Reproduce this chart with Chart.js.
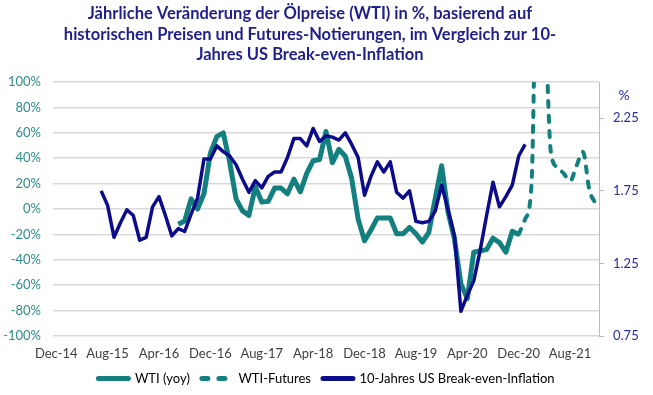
<!DOCTYPE html>
<html>
<head>
<meta charset="utf-8">
<script src="https://cdn.jsdelivr.net/npm/chart.js@4.4.1/dist/chart.umd.min.js"></script>
<style>
  html, body { margin: 0; padding: 0; background: #fff; }
  canvas { display: block; }
</style>
</head>
<body>
<canvas id="oilChart" width="653" height="395"></canvas>
<script>
const titleLines = [
  "Jährliche Veränderung der Ölpreise (WTI) in %, basierend auf",
  "historischen Preisen und Futures-Notierungen, im Vergleich zur 10-",
  "Jahres US Break-even-Inflation"
];

// monthly categories, Dec-14 .. Dec-21
const months = [
  "Dec-14",
  "Jan-15", "Feb-15", "Mar-15", "Apr-15", "May-15", "Jun-15", "Jul-15", "Aug-15", "Sep-15", "Oct-15", "Nov-15", "Dec-15",
  "Jan-16", "Feb-16", "Mar-16", "Apr-16", "May-16", "Jun-16", "Jul-16", "Aug-16", "Sep-16", "Oct-16", "Nov-16", "Dec-16",
  "Jan-17", "Feb-17", "Mar-17", "Apr-17", "May-17", "Jun-17", "Jul-17", "Aug-17", "Sep-17", "Oct-17", "Nov-17", "Dec-17",
  "Jan-18", "Feb-18", "Mar-18", "Apr-18", "May-18", "Jun-18", "Jul-18", "Aug-18", "Sep-18", "Oct-18", "Nov-18", "Dec-18",
  "Jan-19", "Feb-19", "Mar-19", "Apr-19", "May-19", "Jun-19", "Jul-19", "Aug-19", "Sep-19", "Oct-19", "Nov-19", "Dec-19",
  "Jan-20", "Feb-20", "Mar-20", "Apr-20", "May-20", "Jun-20", "Jul-20", "Aug-20", "Sep-20", "Oct-20", "Nov-20", "Dec-20",
  "Jan-21", "Feb-21", "Mar-21", "Apr-21", "May-21", "Jun-21", "Jul-21", "Aug-21", "Sep-21", "Oct-21", "Nov-21", "Dec-21"
];
const tickLabels = ["Dec-14", "Aug-15", "Apr-16", "Dec-16", "Aug-17", "Apr-18", "Dec-18", "Aug-19", "Apr-20", "Dec-20", "Aug-21"];

// WTI yoy in %, from Jul-16
const wtiStart = "Jul-16";
const wtiValues = [
  -12, -9.5, 8, 0, 12, 44, 57, 60, 37, 8, -1.5, -5,
  17.5, 5.5, 6, 16.5, 16.5, 12, 23.5, 13.5, 28, 38, 39, 61,
  36.5, 47, 41.5, 24, -8, -25, -16.5, -7, -7, -7, -19.5, -19.5,
  -14.5, -19.5, -26, -18.5, 8, 34, -2.5, -23.5, -59, -70.5, -34, -33,
  -32, -23, -26.5, -34, -17.5, -20
];

// WTI futures implied yoy in %, from Dec-20
const futuresStart = "Dec-20";
const futuresValues = [-20, -8, 20, 250, 170, 45, 33, 28, 22, 34, 45, 15, 4];

// 10y US break-even inflation in %, from Jul-15
const beiStart = "Jul-15";
const beiValues = [
  1.75, 1.65, 1.43, 1.53, 1.62, 1.58, 1.41, 1.43, 1.64, 1.71, 1.58, 1.44,
  1.49, 1.47, 1.59, 1.70, 1.97, 1.97, 2.06, 2.02, 1.99, 1.93, 1.83, 1.74,
  1.82, 1.77, 1.85, 1.88, 1.88, 1.98, 2.11, 2.11, 2.06, 2.18, 2.09, 2.13,
  2.12, 2.10, 2.15, 2.07, 1.98, 1.72, 1.85, 1.95, 1.88, 1.95, 1.74, 1.70,
  1.75, 1.54, 1.53, 1.54, 1.61, 1.79, 1.62, 1.44, 0.92, 1.03, 1.13, 1.34,
  1.58, 1.81, 1.64, 1.71, 1.79, 1.99, 2.07
];

const TEAL = "#147f7f";
const NAVY = "#0c0c8a";

// put a series on the monthly category axis
function alignTo(start, values) {
  const offset = months.indexOf(start);
  return months.map((m, i) => (i >= offset && i - offset < values.length ? values[i - offset] : null));
}

// title and the "%" unit over the right axis
const extraText = {
  id: "extraText",
  afterDraw(chart) {
    const ctx = chart.ctx;
    ctx.save();
    ctx.textAlign = "center";
    ctx.textBaseline = "middle";
    ctx.font = "bold 16.5px Lato";
    ctx.fillStyle = "#1f1f8c";
    titleLines.forEach((line, i) => ctx.fillText(line, 310, 14 + i * 20.3));
    const y1 = chart.scales.y1;
    ctx.font = "14px Lato";
    ctx.fillStyle = "#2b2b9e";
    ctx.fillText("%", y1.left + 25, chart.chartArea.top + 13);
    ctx.restore();
  }
};

Chart.defaults.font.family = "Lato";
Chart.defaults.font.size = 13;

new Chart(document.getElementById("oilChart"), {
  type: "line",
  data: {
    labels: months,
    datasets: [
      {
        label: "WTI (yoy)",
        data: alignTo(wtiStart, wtiValues),
        yAxisID: "y",
        borderColor: TEAL,
        borderWidth: 5,
        borderJoinStyle: "round",
        order: 1
      },
      {
        label: "WTI-Futures",
        data: alignTo(futuresStart, futuresValues),
        yAxisID: "y",
        borderColor: TEAL,
        borderWidth: 4,
        borderDash: [6, 9],
        borderCapStyle: "round",
        cubicInterpolationMode: "monotone",
        order: 1
      },
      {
        label: "10-Jahres US Break-even-Inflation",
        data: alignTo(beiStart, beiValues),
        yAxisID: "y1",
        borderColor: NAVY,
        borderWidth: 3.5,
        borderJoinStyle: "round",
        order: 0
      }
    ]
  },
  options: {
    responsive: false,
    animation: false,
    elements: { point: { radius: 0 }, line: { tension: 0 } },
    layout: { padding: { top: 82, left: 0, right: 0, bottom: 0 } },
    scales: {
      x: {
        type: "category",
        offset: true,
        afterFit(scale) { scale.height = 24; },
        grid: { display: false, drawTicks: false },
        border: { display: false },
        ticks: {
          autoSkip: false,
          maxRotation: 0,
          padding: 10,
          color: "#404040",
          callback(value) {
            const label = this.getLabelForValue(value);
            return tickLabels.includes(label) ? label : "";
          }
        }
      },
      y: {
        position: "left",
        min: -100,
        max: 100,
        afterFit(scale) { scale.width = 53; },
        grid: { color: "#d9d9d9", lineWidth: 1.5, drawTicks: false },
        border: { display: false },
        ticks: {
          stepSize: 20,
          padding: 12,
          color: "#2e8b8b",
          callback: (v) => v + "%"
        }
      },
      y1: {
        position: "right",
        min: 0.75,
        max: 2.5,
        afterFit(scale) { scale.width = 54; },
        afterBuildTicks(scale) {
          scale.ticks = [0.75, 1.25, 1.75, 2.25].map((v) => ({ value: v }));
        },
        grid: { drawOnChartArea: false, color: "#d6adcc", tickLength: 5 },
        border: { display: true, color: "#d6adcc" },
        ticks: {
          padding: 9,
          color: "#2b2b9e",
          callback: (v) => v.toFixed(2)
        }
      }
    },
    plugins: {
      title: { display: false },
      tooltip: { enabled: false },
      legend: {
        position: "bottom",
        labels: {
          usePointStyle: true,
          pointStyleWidth: 30,
          padding: 12,
          color: "#404040",
          sort: (a, b) => a.datasetIndex - b.datasetIndex,
          generateLabels(chart) {
            return chart.data.datasets.map((ds, i) => ({
              text: ds.label,
              datasetIndex: i,
              fillStyle: ds.borderColor,
              strokeStyle: ds.borderColor,
              lineWidth: 5,
              lineCap: "round",
              lineDash: ds.borderDash ? [6, 11] : [],
              pointStyle: "line",
              hidden: false
            }));
          }
        }
      }
    }
  },
  plugins: [extraText]
});
</script>
</body>
</html>
